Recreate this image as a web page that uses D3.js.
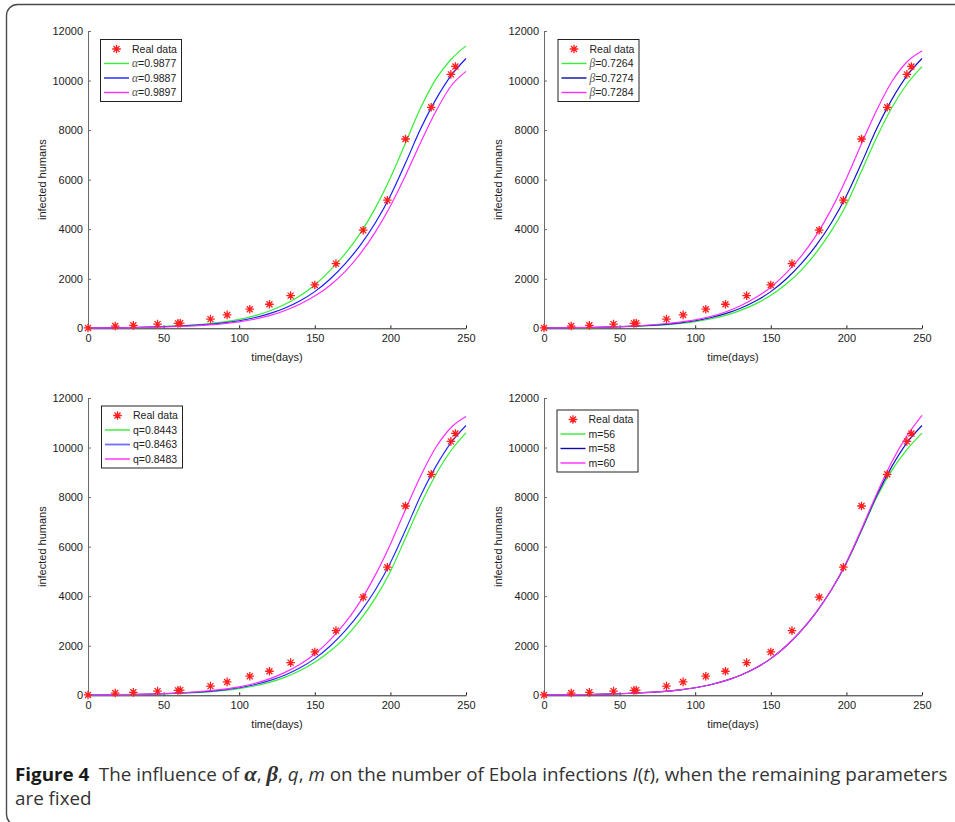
<!DOCTYPE html>
<html>
<head>
<meta charset="utf-8">
<script src="https://cdn.jsdelivr.net/npm/d3@7"></script>
<style>
  body { margin: 0; background: #fff; }
  svg { display: block; }
  .tick text { font-family: "Liberation Sans", Arial, sans-serif; font-size: 11px; fill: #222; }
</style>
</head>
<body>
<div id="chart"></div>
<script>
/* DATA */
// model time grid (days) used by all simulated curves
const days = [0, 10, 20, 30, 40, 50, 60, 70, 80, 90, 100, 110, 120, 130, 140, 150, 160, 170, 180, 190, 200, 210, 220, 230, 240, 250];

// fitted curve (middle value of every parameter)
const fitted = [12, 17, 24, 33, 45, 62, 85, 116, 160, 220, 305, 425, 590, 810, 1100, 1480, 1980, 2600, 3350, 4250, 5350, 6670, 8050, 9230, 10190, 10890];

const alphaLow = [14, 20, 28, 39, 53, 74, 102, 140, 192, 262, 360, 500, 700, 960, 1300, 1750, 2330, 3000, 3830, 4850, 6080, 7480, 8900, 10050, 10850, 11400];
const alphaHigh = [10, 14, 20, 28, 39, 53, 73, 100, 138, 190, 262, 365, 510, 710, 970, 1300, 1730, 2290, 3000, 3880, 4940, 6170, 7500, 8750, 9770, 10370];

const betaLow = [11, 15, 21, 29, 40, 55, 76, 104, 142, 195, 270, 375, 520, 725, 985, 1330, 1780, 2340, 3050, 3930, 5000, 6350, 7700, 8900, 9850, 10560];
const betaHigh = [13, 19, 27, 37, 51, 70, 97, 134, 183, 250, 340, 475, 660, 910, 1240, 1660, 2220, 2900, 3750, 4800, 6050, 7450, 8800, 9950, 10750, 11190];

const qLow = [11, 15, 21, 29, 40, 55, 76, 104, 142, 195, 270, 375, 520, 725, 990, 1330, 1780, 2330, 3040, 3920, 5000, 6350, 7700, 8900, 9870, 10590];
const qHigh = [13, 19, 27, 37, 51, 70, 97, 134, 183, 250, 342, 478, 665, 915, 1245, 1670, 2230, 2920, 3780, 4850, 6100, 7500, 8850, 10000, 10800, 11250];

const mLow = [12, 17, 24, 33, 45, 62, 85, 116, 160, 220, 305, 425, 590, 810, 1100, 1480, 1980, 2600, 3350, 4250, 5330, 6640, 7980, 9080, 9920, 10580];
const mHigh = [12, 17, 24, 33, 45, 62, 85, 116, 160, 220, 305, 425, 590, 810, 1100, 1480, 1980, 2600, 3350, 4250, 5370, 6710, 8130, 9420, 10470, 11300];

// reported cases
const realDays = [0, 18, 30, 46, 59.5, 61, 81, 92, 107, 120, 134, 150, 164, 182, 198, 210, 227, 240, 243];
const realCases = [15, 90, 120, 170, 200, 210, 370, 540, 770, 970, 1320, 1750, 2610, 3960, 5170, 7640, 8920, 10250, 10570];

const paramSymbols = ["α", "β", "q", "m"];
const paramValues = [
  ["0.9877", "0.9887", "0.9897"],
  ["0.7264", "0.7274", "0.7284"],
  ["0.8443", "0.8463", "0.8483"],
  ["56", "58", "60"]
];
const panelSeries = [
  [alphaLow, fitted, alphaHigh],
  [betaLow, fitted, betaHigh],
  [qLow, fitted, qHigh],
  [mLow, fitted, mHigh]
];

const xTicks = [0, 50, 100, 150, 200, 250];
const yTicks = [0, 2000, 4000, 6000, 8000, 10000, 12000];

/* LAYOUT */
const width = 955, height = 822;
const plotW = 378, plotH = 297.3;
const panelPos = [
  { x: 88, y: 31 }, { x: 544, y: 31 },
  { x: 88, y: 398 }, { x: 544, y: 398 }
];
const greenC = "#33ee33", magentaC = "#ff2cff";
const blueLine = ["#1c1cff", "#1414d0", "#2a2aff", "#1414d0"];
const blueLegend = ["#1c1cff", "#0a0aa8", "#7070ff", "#0a0aa8"];
const legendOff = [{ x: 12, y: 8 }, { x: 13.5, y: 8 }, { x: 13, y: 7.5 }, { x: 12.5, y: 11.5 }];

const svg = d3.select("#chart").append("svg")
  .attr("width", width)
  .attr("height", height);

svg.append("rect").attr("width", width).attr("height", height).attr("fill", "#fff");

// outer frame of the figure (cropped on right & bottom)
svg.append("rect")
  .attr("x", 6.5).attr("y", 4.5)
  .attr("width", 965).attr("height", 821)
  .attr("rx", 11)
  .attr("fill", "none")
  .attr("stroke", "#4a4a4a")
  .attr("stroke-width", 1.4);

const xScale = d3.scaleLinear().domain([0, 250]).range([0, plotW]);
const yScale = d3.scaleLinear().domain([0, 12000]).range([plotH, 0]);

const line = d3.line()
  .x((d, i) => xScale(days[i]))
  .y(d => yScale(d))
  .curve(d3.curveMonotoneX);

const starPath = "M-4.3,0H4.3M0,-4.3V4.3M-3,-3L3,3M-3,3L3,-3";
const starColor = "#ff1f1f";

panelPos.forEach((pos, p) => {
  const g = svg.append("g").attr("transform", `translate(${pos.x},${pos.y})`);

  // axes
  const xAxis = g.append("g")
    .attr("transform", `translate(0,${plotH})`)
    .call(d3.axisBottom(xScale).tickValues(xTicks).tickFormat(d3.format("d"))
      .tickSizeInner(-3).tickSizeOuter(0).tickPadding(6));
  xAxis.selectAll("path, line").attr("stroke", "#262626").attr("stroke-width", 1);

  const yAxis = g.append("g")
    .call(d3.axisLeft(yScale).tickValues(yTicks).tickFormat(d3.format("d"))
      .tickSizeInner(-3).tickSizeOuter(0).tickPadding(5));
  yAxis.selectAll("path, line").attr("stroke", "#6a6a6a").attr("stroke-width", 1);

  g.append("text")
    .attr("x", plotW / 2)
    .attr("y", plotH + 33)
    .attr("text-anchor", "middle")
    .style("font-family", "Liberation Sans, Arial, sans-serif")
    .style("font-size", "11px")
    .attr("fill", "#222")
    .text("time(days)");

  g.append("text")
    .attr("transform", `translate(-42,${plotH / 2}) rotate(-90)`)
    .attr("text-anchor", "middle")
    .style("font-family", "Liberation Sans, Arial, sans-serif")
    .style("font-size", "11px")
    .attr("fill", "#222")
    .text("infected humans");

  // model curves
  const colors = [greenC, blueLine[p], magentaC];
  g.selectAll("path.curve")
    .data(panelSeries[p])
    .join("path")
    .attr("class", "curve")
    .attr("d", line)
    .attr("fill", "none")
    .attr("stroke", (d, i) => colors[i])
    .attr("stroke-width", 1.2);

  // real data stars
  g.selectAll("path.star")
    .data(realDays.map((t, i) => [t, realCases[i]]))
    .join("path")
    .attr("class", "star")
    .attr("transform", d => `translate(${xScale(d[0])},${yScale(d[1])})`)
    .attr("d", starPath)
    .attr("stroke", starColor)
    .attr("stroke-width", 1.3)
    .attr("fill", "none");

  // legend
  const lg = g.append("g").attr("transform", `translate(${legendOff[p].x},${legendOff[p].y})`);
  lg.append("rect")
    .attr("x", 0.5).attr("y", 0.5)
    .attr("width", 81).attr("height", 62)
    .attr("fill", "#fff")
    .attr("stroke", "#222")
    .attr("stroke-width", 1);

  const rowY = [10, 24.5, 39, 53.5];
  lg.append("path")
    .attr("transform", `translate(16.5,${rowY[0]})`)
    .attr("d", starPath)
    .attr("stroke", starColor)
    .attr("stroke-width", 1.3)
    .attr("fill", "none");
  lg.append("text")
    .attr("x", 32).attr("y", rowY[0]).attr("dy", "0.36em")
    .style("font-family", "Liberation Sans, Arial, sans-serif")
    .style("font-size", "10.5px")
    .attr("fill", "#222")
    .text("Real data");

  const legColors = [greenC, blueLegend[p], magentaC];
  paramValues[p].forEach((v, i) => {
    const yy = rowY[i + 1];
    lg.append("line")
      .attr("x1", 4).attr("x2", 29)
      .attr("y1", yy).attr("y2", yy)
      .attr("stroke", legColors[i])
      .attr("stroke-width", p === 2 && i === 1 ? 1.8 : 1.4);
    const t = lg.append("text")
      .attr("x", 32).attr("y", yy).attr("dy", "0.36em")
      .style("font-family", "Liberation Sans, Arial, sans-serif")
      .style("font-size", "10.5px")
      .attr("fill", "#222");
    if (p < 2) {
      t.append("tspan")
        .style("font-family", "Liberation Serif, serif")
        .style("font-style", "italic")
        .attr("fill", "#555")
        .style("font-size", "11.5px")
        .text(paramSymbols[p]);
    } else {
      t.append("tspan").text(paramSymbols[p]);
    }
    t.append("tspan").text("=" + v);
  });
});

/* CAPTION */
const capSize = 18;
const cap = svg.append("text")
  .attr("x", 0).attr("y", 0)
  .style("font-family", "Open Sans, Noto Sans, sans-serif")
  .style("font-size", capSize + "px")
  .attr("fill", "#333");
cap.append("tspan").attr("font-weight", "bold").attr("fill", "#1a1a1a").text("Figure 4");
cap.append("tspan").attr("dx", 9).text("The influence of ");
const mathSpan = s => cap.append("tspan")
  .style("font-family", "Liberation Serif, serif")
  .attr("font-weight", "bold").attr("font-style", "italic")
  .style("font-size", "1.2em").text(s);
mathSpan("α");
cap.append("tspan").text(", ");
mathSpan("β");
cap.append("tspan").text(", ");
cap.append("tspan").attr("font-style", "italic").text("q");
cap.append("tspan").text(", ");
cap.append("tspan").attr("font-style", "italic").text("m");
cap.append("tspan").text(" on the number of Ebola infections ");
cap.append("tspan").attr("font-style", "italic").text("I");
cap.append("tspan").text("(");
cap.append("tspan").attr("font-style", "italic").text("t");
cap.append("tspan").text("), when the remaining parameters");

// squeeze caption horizontally to the reference width (narrow type)
const capW = cap.node().getBBox().width;
const squeeze = 933 / capW;
cap.attr("transform", `translate(15,781) scale(${squeeze},1)`);

svg.append("text")
  .attr("transform", `translate(15,805) scale(${squeeze},1)`)
  .style("font-family", "Open Sans, Noto Sans, sans-serif")
  .style("font-size", capSize + "px")
  .attr("fill", "#333")
  .text("are fixed");
</script>
</body>
</html>
